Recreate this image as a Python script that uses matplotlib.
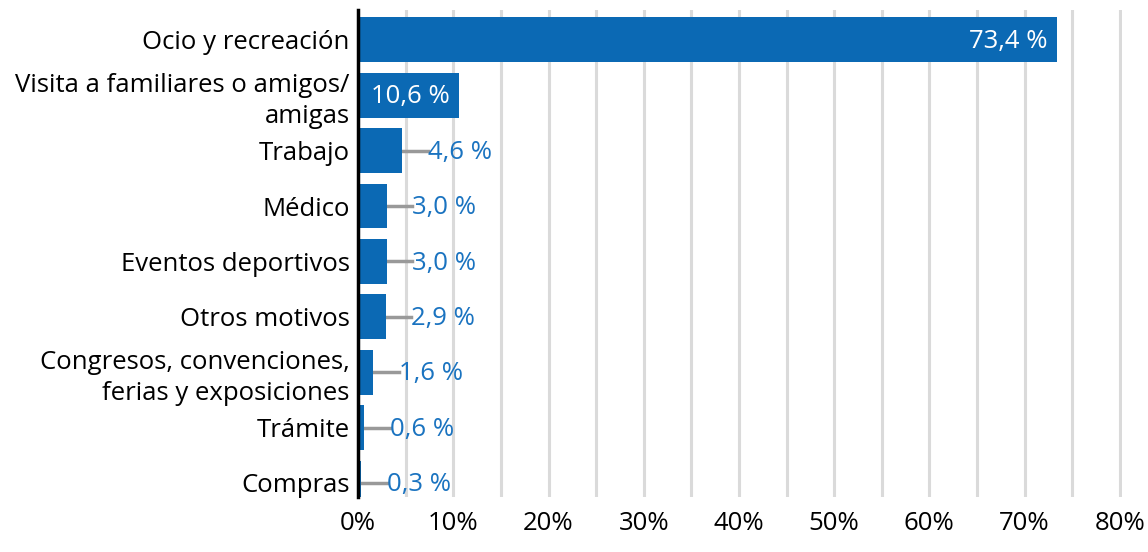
import matplotlib
matplotlib.use('Agg')
import matplotlib.pyplot as plt
import numpy as np

plt.rcParams['font.family'] = ['Open Sans', 'DejaVu Sans']

categorias = ['Ocio y recreación', 'Visita a familiares o amigos/\namigas', 'Trabajo',
              'Médico', 'Eventos deportivos', 'Otros motivos',
              'Congresos, convenciones,\nferias y exposiciones', 'Trámite', 'Compras']
valores = [73.4, 10.6, 4.6, 3.0, 3.0, 2.9, 1.6, 0.6, 0.3]
etiquetas = ['73,4 %', '10,6 %', '4,6 %', '3,0 %', '3,0 %', '2,9 %', '1,6 %', '0,6 %', '0,3 %']
ticks = [0, 10, 20, 30, 40, 50, 60, 70, 80]

azul = '#0b69b4'
fs = 18.5
fig = plt.figure(figsize=(11.48, 5.52), dpi=100)
ax = fig.add_axes([0.312, 0.1, 0.665, 0.882])

y = np.arange(len(categorias))
ax.barh(y, valores, height=0.81, color=azul, zorder=3)

for i, (v, t) in enumerate(zip(valores, etiquetas)):
    if v > 10:
        ax.text(v - 1.0, i + 0.03, t, ha='right', va='center', color='white', fontsize=fs, zorder=4)
    else:
        ax.plot([v, v + 2.7], [i, i], color='#999999', lw=2.5, zorder=2)
        ax.text(v + 2.7, i + 0.03, t, ha='left', va='center', color='#1a73c0', fontsize=fs, zorder=4)

ax.set_xlim(0, 80.2)
ax.set_ylim(8.25, -0.54)
ax.set_yticks(y)
ax.set_yticklabels(categorias, fontsize=fs, linespacing=1.3)
ax.set_xticks(ticks)
ax.set_xticklabels([f'{t}%' for t in ticks], fontsize=fs)
ax.tick_params(length=0, pad=6)
ax.tick_params(axis='x', pad=10)

for g in np.arange(5, 81, 5):
    ax.axvline(g, color='#dadada', lw=2.2, zorder=1)

for s in ['top', 'right', 'bottom']:
    ax.spines[s].set_visible(False)
ax.spines['left'].set_linewidth(2.5)
ax.spines['left'].set_zorder(5)

fig.savefig('out.png', dpi=100)
